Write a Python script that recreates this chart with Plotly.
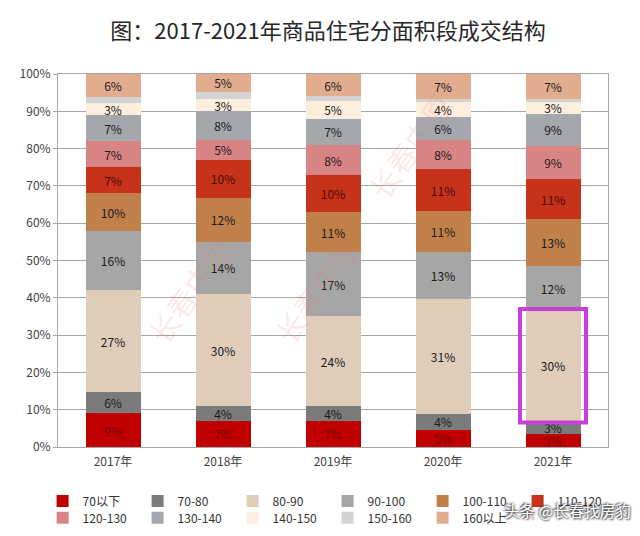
import plotly.graph_objects as go

years = ["2017年", "2018年", "2019年", "2020年", "2021年"]
segments = ["70以下", "70-80", "80-90", "90-100", "100-110", "110-120",
            "120-130", "130-140", "140-150", "150-160", "160以上"]

v_70 = [9.1, 7.0, 7.0, 4.6, 3.4]
v_70_80 = [5.6, 4.0, 4.0, 4.3, 3.4]
v_80_90 = [27.3, 30.0, 24.0, 30.9, 30.0]
v_90_100 = [15.8, 14.0, 17.2, 12.6, 11.6]
v_100_110 = [10.2, 11.8, 10.8, 10.8, 12.6]
v_110_120 = [7.0, 10.2, 9.8, 11.4, 10.8]
v_120_130 = [7.0, 5.4, 8.2, 7.8, 8.8]
v_130_140 = [7.0, 7.6, 7.0, 6.2, 8.8]
v_140_150 = [3.2, 3.2, 4.8, 3.8, 3.1]
v_150_160 = [1.6, 2.0, 1.2, 1.0, 0.9]
v_160 = [6.2, 4.8, 6.0, 6.6, 6.6]

series = [v_70, v_70_80, v_80_90, v_90_100, v_100_110, v_110_120,
          v_120_130, v_130_140, v_140_150, v_150_160, v_160]

colors = ["#C00000", "#7B7B7B", "#DFCDBA", "#A6A6A6", "#C17F4A", "#C6321A",
          "#D98484", "#A4A7AB", "#FBEEDD", "#D3D3D3", "#E2AC8F"]
text_colors = ["#7A0000", "#1a1a1a", "#1a1a1a", "#1a1a1a", "#1a1a1a", "#4A0C06",
               "#1a1a1a", "#1a1a1a", "#1a1a1a", "#1a1a1a", "#1a1a1a"]

FONT = "Noto Sans CJK SC"

fig = go.Figure()
for i, (name, vals) in enumerate(zip(segments, series)):
    show_label = name != "150-160"
    fig.add_trace(go.Bar(
        x=years, y=vals, name=name,
        marker=dict(color=colors[i], line=dict(width=0)),
        text=[f"{v:.0f}%" for v in vals] if show_label else None,
        textposition="inside", insidetextanchor="middle",
        textangle=0, constraintext="none",
        textfont=dict(family=FONT, size=12, color=text_colors[i]),
        legend="legend" if i < 6 else "legend2",
        hoverinfo="skip",
    ))

# highlight rectangle around 2021 80-90 segment
idx = years.index("2021年")
y_low = v_70[idx] + v_70_80[idx]
y_high = y_low + v_80_90[idx]
fig.add_shape(type="rect", xref="x", yref="y",
              x0=idx - 0.3, x1=idx + 0.3, y0=y_low - 0.2, y1=y_high + 0.2,
              line=dict(color="#C63FD6", width=4), fillcolor="rgba(0,0,0,0)")

# watermarks
for (wx, wy, ang) in [(0.14, 0.42, -55), (0.47, 0.42, -55), (0.74, 0.98, -55)]:
    fig.add_annotation(text="长春中原", xref="paper", yref="paper", x=wx, y=wy,
                       showarrow=False, textangle=ang,
                       font=dict(family=FONT, size=30, color="rgba(230,120,120,0.16)"))
fig.add_annotation(text="头条 @长春找房豹", xref="paper", yref="paper",
                   x=1.045, y=-0.17, xanchor="right", yanchor="middle",
                   showarrow=False,
                   font=dict(family=FONT, size=15.5, color="white",
                             shadow="1px 1px 2px #333, -1px -1px 2px #333"))

legend_common = dict(orientation="h", xanchor="left", yanchor="middle",
                     traceorder="normal",
                     font=dict(family=FONT, size=12, color="#333333"),
                     entrywidth=50, entrywidthmode="pixels",
                     itemwidth=30, bgcolor="rgba(0,0,0,0)", tracegroupgap=0)

fig.update_layout(
    width=640, height=536,
    paper_bgcolor="white", plot_bgcolor="white",
    margin=dict(l=50, r=40, t=66, b=89),
    barmode="stack", bargap=0.5,
    title=dict(text="图：2017-2021年商品住宅分面积段成交结构",
               x=0.5, xanchor="center", y=0.957, yanchor="middle",
               font=dict(family=FONT, size=22, color="#262626")),
    legend=dict(x=-0.028, y=-0.145, **legend_common),
    legend2=dict(x=-0.028, y=-0.19, **legend_common),
    yaxis=dict(range=[0, 100], dtick=10, ticksuffix="%",
               showgrid=True, gridcolor="#A6A6A6", gridwidth=1,
               showline=True, linecolor="#A6A6A6", mirror=True,
               ticks="outside", ticklen=4, tickcolor="#A6A6A6",
               tickfont=dict(family=FONT, size=12, color="#404040"),
               zeroline=False, fixedrange=True),
    xaxis=dict(showline=True, linecolor="#A6A6A6", mirror=True,
               tickfont=dict(family=FONT, size=12, color="#404040"),
               ticks="", ticklabelstandoff=4, fixedrange=True),
)

fig.write_html("out.html")
